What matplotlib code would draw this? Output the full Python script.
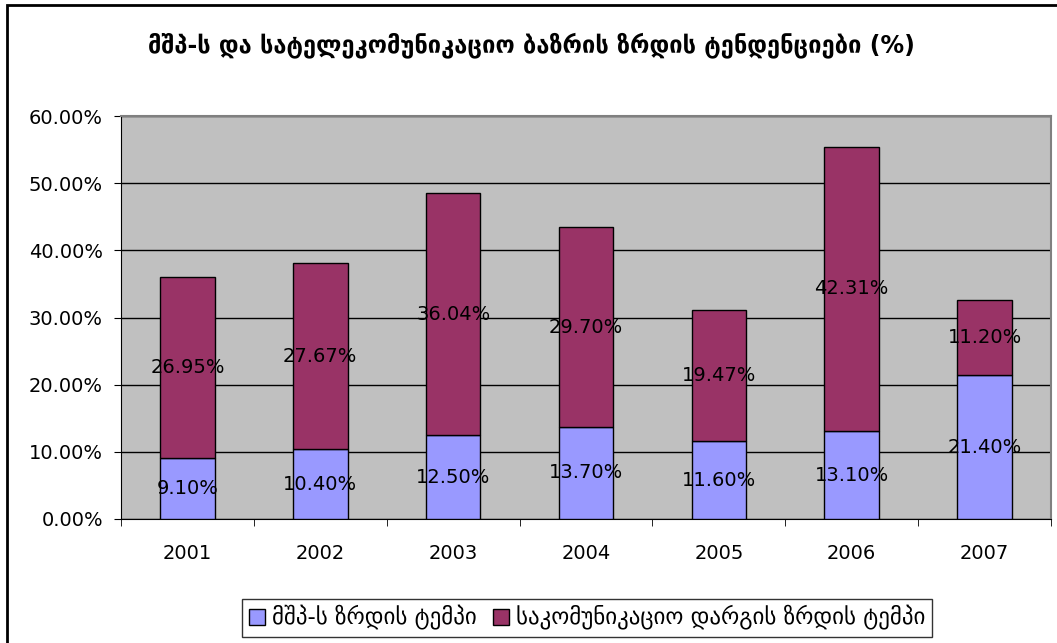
import matplotlib.pyplot as plt
from matplotlib.patches import Rectangle
from matplotlib.ticker import FuncFormatter, FixedLocator

years = ['2001', '2002', '2003', '2004', '2005', '2006', '2007']
gdp_growth = [9.10, 10.40, 12.50, 13.70, 11.60, 13.10, 21.40]
telecom_growth = [26.95, 27.67, 36.04, 29.70, 19.47, 42.31, 11.20]
series_names = ['მშპ-ს ზრდის ტემპი', 'საკომუნიკაციო დარგის ზრდის ტემპი']
title = 'მშპ-ს და სატელეკომუნიკაციო ბაზრის ზრდის ტენდენციები (%)'

W, H = 1057, 643
fig = plt.figure(figsize=(W / 100, H / 100), dpi=100)
plt.rcParams['font.family'] = ['DejaVu Sans']

# outer chart border (only top/left visible in the reference)
fig.patches.append(Rectangle((7 / W, -0.05), 1.2, 1 - 5 / H + 0.05,
                             transform=fig.transFigure, fill=False,
                             edgecolor='black', lw=2))

ax = fig.add_axes([121 / W, (H - 519) / H, 930 / W, 403 / H])
ax.set_facecolor('#c0c0c0')

x = range(len(years))
bw = 0.41
ax.bar(x, gdp_growth, bw, color='#9999ff', edgecolor='black', lw=1,
       label=series_names[0], zorder=3)
ax.bar(x, telecom_growth, bw, bottom=gdp_growth, color='#993366',
       edgecolor='black', lw=1, label=series_names[1], zorder=3)

for i in x:
    ax.text(i, gdp_growth[i] / 2, f'{gdp_growth[i]:.2f}%', ha='center',
            va='center', fontsize=14, zorder=4)
    ax.text(i, gdp_growth[i] + telecom_growth[i] / 2,
            f'{telecom_growth[i]:.2f}%', ha='center', va='center',
            fontsize=14, zorder=4)

ax.set_xlim(-0.5, len(years) - 0.5)
ax.set_ylim(0, 60)
ax.set_yticks(range(0, 61, 10))
ax.yaxis.set_major_formatter(FuncFormatter(lambda v, p: f'{v:.2f}%'))
ax.grid(axis='y', color='black', lw=1, zorder=1)

ax.set_xticks(list(x))
ax.set_xticklabels(years)
ax.xaxis.set_minor_locator(FixedLocator([i - 0.5 for i in range(len(years) + 1)]))
ax.tick_params(axis='x', which='major', length=0, pad=18, labelsize=14)
ax.tick_params(axis='x', which='minor', length=5, direction='out', color='black')
ax.tick_params(axis='y', length=5, direction='out', labelsize=14, pad=8)

for s in ['top', 'right']:
    ax.spines[s].set_color('#808080')
    ax.spines[s].set_linewidth(1.5)
for s in ['left', 'bottom']:
    ax.spines[s].set_color('black')

fig.text(531 / W, 1 - 45 / H, title, ha='center', va='center',
         fontsize=17, fontweight='bold')

leg = fig.legend(loc='center', bbox_to_anchor=(587 / W, 1 - 618 / H), ncol=2,
                 fontsize=16.5, frameon=True, fancybox=False, edgecolor='black',
                 handlelength=0.7, handleheight=0.7, handletextpad=0.3,
                 columnspacing=0.7, borderpad=0.3, borderaxespad=0)
leg.get_frame().set_linewidth(1)

fig.savefig('out.png', dpi=100)
